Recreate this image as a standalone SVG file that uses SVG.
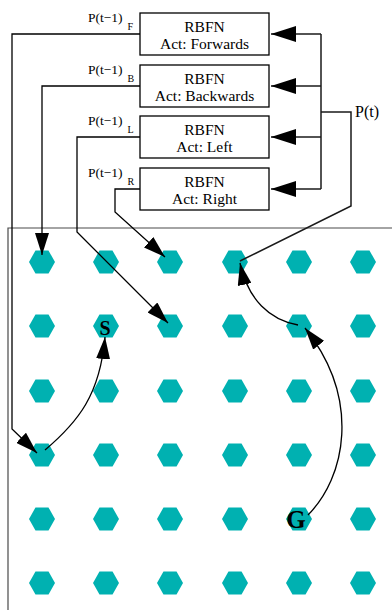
<svg xmlns="http://www.w3.org/2000/svg" width="392" height="610" viewBox="0 0 392 610">
  <style>
    .box { fill: #ffffff; stroke: #000000; stroke-width: 1.3; }
    .btxt { font-family: "Liberation Serif", "Times New Roman", serif; font-size: 15.5px; fill: #000000; text-anchor: middle; }
    .lbl { font-family: "Liberation Serif", "Times New Roman", serif; font-size: 13.5px; fill: #000000; }
    .sub { font-family: "Liberation Serif", "Times New Roman", serif; font-size: 10px; fill: #000000; }
    .pin { font-family: "Liberation Serif", "Times New Roman", serif; font-size: 16px; fill: #000000; }
    .hex { fill: #00b1b1; }
    .wire { fill: none; stroke: #1a1a1a; stroke-width: 1.5; }
    .arrow { fill: none; stroke: #000000; stroke-width: 1.3; marker-end: url(#head); }
    .arrowL { fill: none; stroke: #1a1a1a; stroke-width: 1.5; marker-end: url(#headL); }
    .mark { font-family: "Liberation Serif", "Times New Roman", serif; font-weight: bold; fill: #000000; text-anchor: middle; }
  </style>
  <defs>
    <marker id="head" markerUnits="userSpaceOnUse" markerWidth="22" markerHeight="14" refX="22" refY="7" orient="auto">
      <path d="M0,0 L22,7 L0,14 z" fill="#000000"/>
    </marker>
    <marker id="headL" markerUnits="userSpaceOnUse" markerWidth="25" markerHeight="16" refX="25" refY="8" orient="auto">
      <path d="M0,0 L25,8 L0,16 z" fill="#000000"/>
    </marker>
    <polygon id="hx" points="-13,0 -6.5,-11.5 6.5,-11.5 13,0 6.5,11.5 -6.5,11.5"/>
  </defs>

  <!-- grid frame -->
  <path d="M392,228 H8 V610" fill="none" stroke="#4a4a4a" stroke-width="1.2"/>

  <!-- grid cells -->
  <g id="grid" class="hex">
    <use href="#hx" x="42" y="262"/><use href="#hx" x="106" y="262"/><use href="#hx" x="170" y="262"/><use href="#hx" x="235" y="262"/><use href="#hx" x="299" y="262"/><use href="#hx" x="363" y="262"/>
    <use href="#hx" x="42" y="326"/><use href="#hx" x="106" y="326"/><use href="#hx" x="170" y="326"/><use href="#hx" x="235" y="326"/><use href="#hx" x="299" y="326"/><use href="#hx" x="363" y="326"/>
    <use href="#hx" x="42" y="391"/><use href="#hx" x="106" y="391"/><use href="#hx" x="170" y="391"/><use href="#hx" x="235" y="391"/><use href="#hx" x="299" y="391"/><use href="#hx" x="363" y="391"/>
    <use href="#hx" x="42" y="455"/><use href="#hx" x="106" y="455"/><use href="#hx" x="170" y="455"/><use href="#hx" x="235" y="455"/><use href="#hx" x="299" y="455"/><use href="#hx" x="363" y="455"/>
    <use href="#hx" x="42" y="519"/><use href="#hx" x="106" y="519"/><use href="#hx" x="170" y="519"/><use href="#hx" x="235" y="519"/><use href="#hx" x="299" y="519"/><use href="#hx" x="363" y="519"/>
    <use href="#hx" x="42" y="583"/><use href="#hx" x="106" y="583"/><use href="#hx" x="170" y="583"/><use href="#hx" x="235" y="583"/><use href="#hx" x="299" y="583"/><use href="#hx" x="363" y="583"/>
  </g>

  <!-- start and goal markers -->
  <g id="start"><text class="mark" x="105" y="335" font-size="20">S</text></g>
  <g id="goal"><text class="mark" x="296" y="528" font-size="25">G</text></g>

  <!-- network modules -->
  <g id="rbfn-forwards">
    <rect class="box" x="140" y="13" width="129" height="42"/>
    <text class="btxt" x="204.5" y="31.5">RBFN</text>
    <text class="btxt" x="204.5" y="48.5">Act: Forwards</text>
    <text class="lbl" x="88" y="22">P(t−1)</text><text class="sub" x="127.5" y="29.5">F</text>
  </g>
  <g id="rbfn-backwards">
    <rect class="box" x="140" y="65" width="129" height="42"/>
    <text class="btxt" x="204.5" y="83.5">RBFN</text>
    <text class="btxt" x="204.5" y="100.5">Act: Backwards</text>
    <text class="lbl" x="88" y="74">P(t−1)</text><text class="sub" x="127.5" y="81.5">B</text>
  </g>
  <g id="rbfn-left">
    <rect class="box" x="140" y="116" width="129" height="42"/>
    <text class="btxt" x="204.5" y="134.5">RBFN</text>
    <text class="btxt" x="204.5" y="151.5">Act: Left</text>
    <text class="lbl" x="88" y="125">P(t−1)</text><text class="sub" x="127.5" y="132.5">L</text>
  </g>
  <g id="rbfn-right">
    <rect class="box" x="140" y="168" width="129" height="42"/>
    <text class="btxt" x="204.5" y="186.5">RBFN</text>
    <text class="btxt" x="204.5" y="203.5">Act: Right</text>
    <text class="lbl" x="88" y="177">P(t−1)</text><text class="sub" x="127.5" y="184.5">R</text>
  </g>
  <g id="input"><text class="pin" x="355" y="117">P(t)</text></g>

  <!-- connectors -->
  <g id="connectors">
    <!-- P(t) fan-in to every module -->
    <path class="wire" d="M321,34 V189"/>
    <path class="arrowL" d="M321,34 H271"/>
    <path class="arrowL" d="M321,86 H271"/>
    <path class="arrowL" d="M321,137 H271"/>
    <path class="arrowL" d="M321,189 H271"/>
    <path class="wire" d="M321,112 H351 V206 L240,261"/>

    <!-- predicted positions into the grid -->
    <path class="arrow" d="M140,34 H12 V429 L37,453"/>
    <path class="arrow" d="M140,86 H42 V255"/>
    <path class="arrow" d="M140,137 H77 V232 L168,323"/>
    <path class="arrow" d="M140,189 H115 V212 L165,257"/>

    <!-- trajectory -->
    <path class="arrow" d="M45,450 C78,422 100,395 105,337"/>
    <path class="arrow" d="M308,515 C345,478 362,400 305,328"/>
    <path class="arrow" d="M298,325 C270,320 248,300 240,263"/>
  </g>
</svg>
